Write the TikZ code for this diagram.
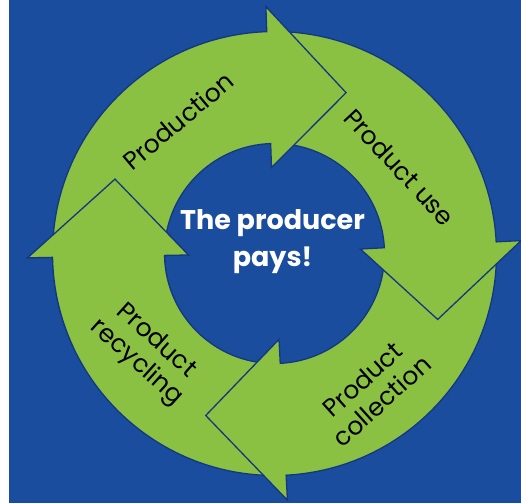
\documentclass[tikz,border=0pt]{standalone}
\usepackage{fontspec}
\setmainfont{Poppins}
\usepackage{tikz}
\usetikzlibrary{positioning}

\definecolor{bgblue}{RGB}{26,77,158}
\definecolor{edgeblue}{RGB}{20,56,128}
\definecolor{ringgreen}{RGB}{139,193,67}

\tikzstyle{arrowpart}=[fill=ringgreen, draw=edgeblue, line width=1.3pt, line join=miter]
\tikzstyle{steplabel}=[text=black, font=\fontsize{25}{29}\selectfont, align=center]
\tikzstyle{centretext}=[text=white, font=\fontsize{27}{37}\selectfont\bfseries, align=center]

% tail angle, head base angle, tip angle
\newcommand{\ringarrow}[3]{%
  \filldraw[arrowpart] (#1:\R) arc[start angle=#1, end angle=#2, radius=\R]
    -- (#2:\Rs) -- (#3:\Rt) -- (#2:\rs) -- (#2:\r)
    arc[start angle=#2, end angle=#1, radius=\r];
}

\begin{document}
\begin{tikzpicture}[x=1pt, y=1pt]
    \def\r{110}  % inner radius
    \def\R{222}  % outer radius
    \def\rs{86}  % inner shoulder
    \def\Rs{247} % outer shoulder
    \def\Rt{176} % tip radius

    % background
    \useasboundingbox (-274.5,-249.5) rectangle (246.5,253.5);
    \fill[white] (-274.5,-249.5) rectangle (-265.5,253.5);
    \fill[bgblue] (-265.5,-249.5) rectangle (246.5,253.5);

    % the four arrows of the cycle, last one first
    \ringarrow{270}{181}{155}
    \ringarrow{0}{-87}{-113}
    \ringarrow{89}{3}{-22}
    \ringarrow{178}{92}{66}
    % head of the recycling arrow again, over the tail of production
    \ringarrow{205}{181}{155}

    % labels
    \node[steplabel, rotate=40] (production) at (126:164) {Production};
    \node[steplabel, rotate=-47] (use) at (34.6:152) {Product use};
    \node[steplabel, rotate=42] (collection) at (-54.5:168) {Product\\collection};
    \node[steplabel, rotate=-42] (recycling) at (217.5:162) {Product\\recycling};

    % centre text
    \node[centretext] (pays) at (-2,12) {The producer\\pays!};
\end{tikzpicture}
\end{document}
